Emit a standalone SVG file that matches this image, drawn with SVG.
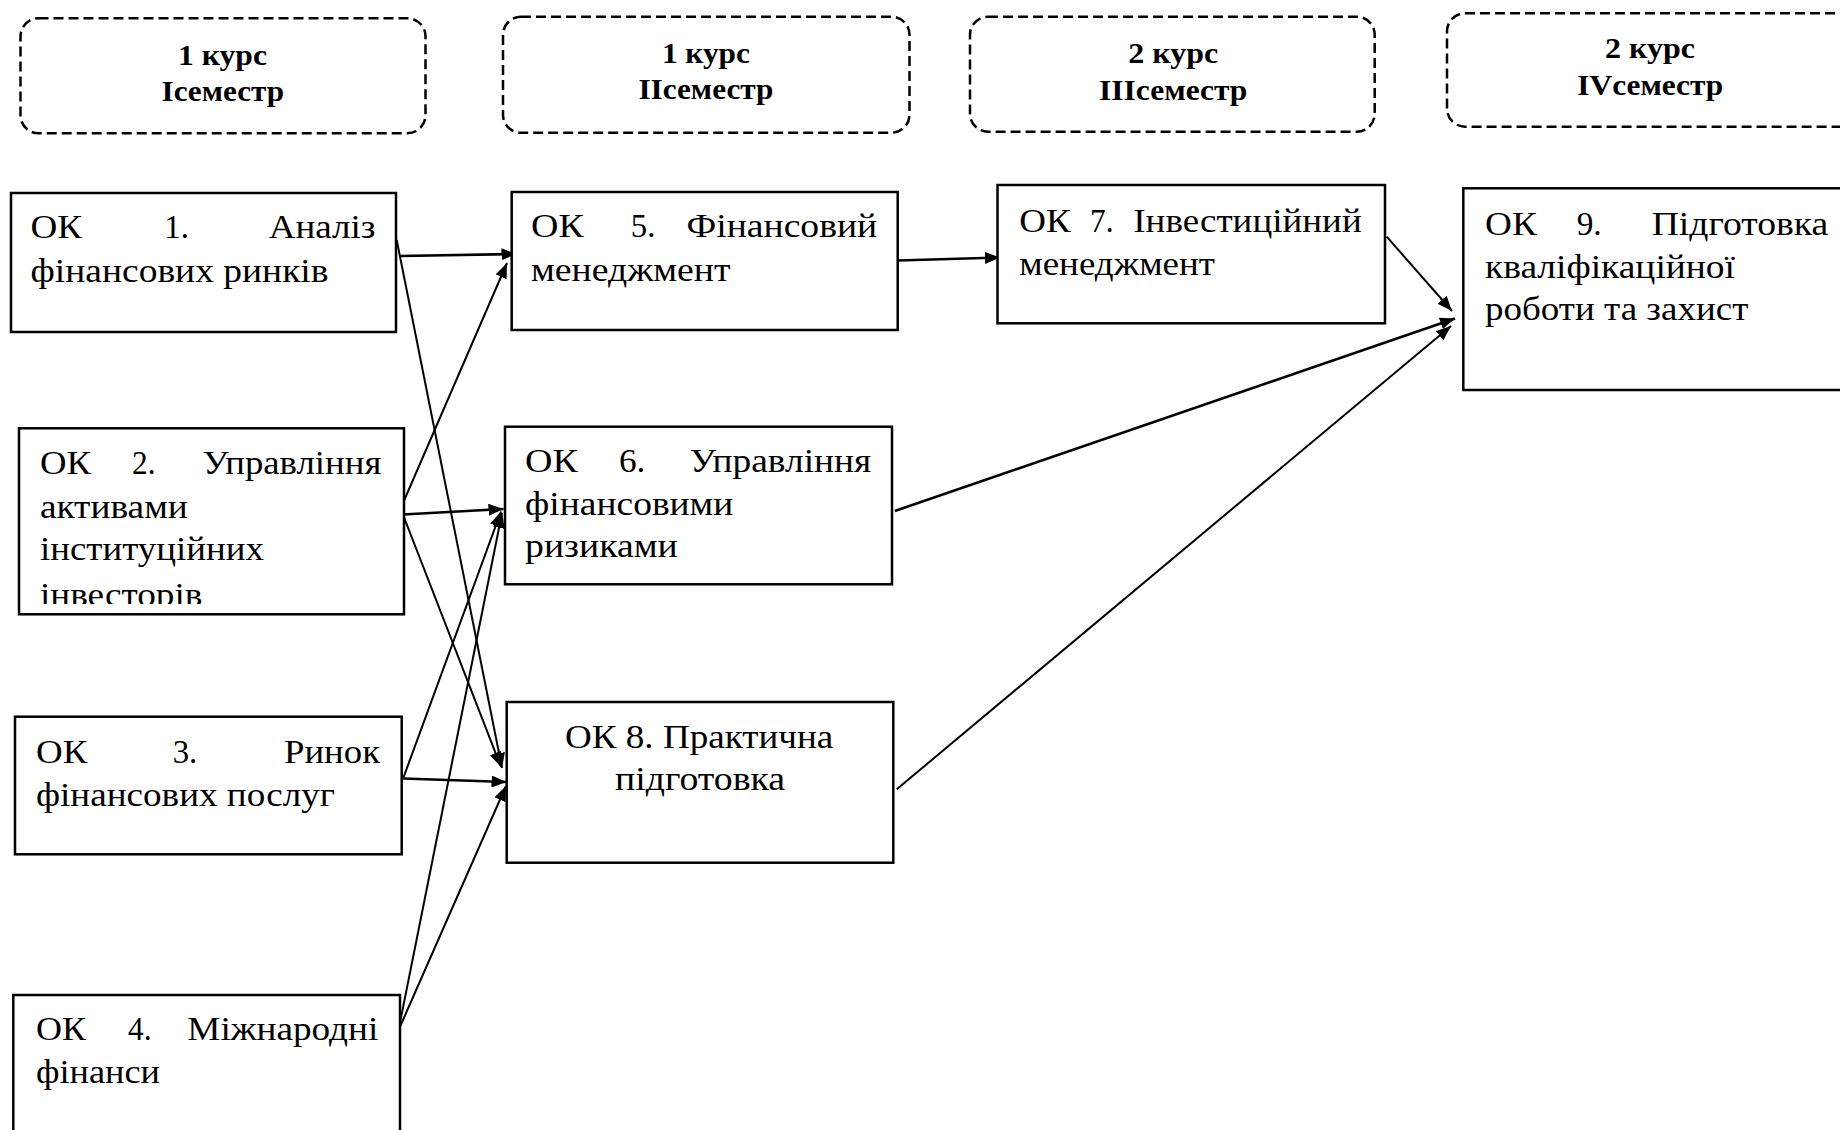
<svg xmlns="http://www.w3.org/2000/svg" width="1840" height="1130" viewBox="0 0 1840 1130">
<style>
.b{fill:#fff;stroke:#000;stroke-width:2.5}
.h{fill:#fff;stroke:#000;stroke-width:2.5;stroke-dasharray:10 5}
.t{font-family:"Liberation Serif","Times New Roman",serif;font-size:34px;fill:#000}
.ht{font-family:"Liberation Serif","Times New Roman",serif;font-size:29px;font-weight:bold;fill:#000}
.c{stroke:#000;stroke-width:2;fill:none;marker-end:url(#ah)}
.k{stroke-width:2.6}
</style>
<defs>
<marker id="ah" markerUnits="userSpaceOnUse" markerWidth="16" markerHeight="12" refX="15" refY="6" orient="auto">
<path d="M0,0 L15,6 L0,12 Z" fill="#000"/>
</marker>
<clipPath id="clip2"><rect x="19" y="428" width="385" height="176"/></clipPath>
</defs>
<rect width="1840" height="1130" fill="#fff"/>

<g id="header1">
<rect class="h" x="20.5" y="18.3" width="405" height="115" rx="18"/>
<text class="ht" x="178" y="65" textLength="89" lengthAdjust="spacingAndGlyphs">1 курс</text>
<text class="ht" x="161.5" y="101" textLength="122.5" lengthAdjust="spacingAndGlyphs">Iсеместр</text>
</g>
<g id="header2">
<rect class="h" x="503" y="16.7" width="406.5" height="116" rx="18"/>
<text class="ht" x="661.9" y="63.3" textLength="88" lengthAdjust="spacingAndGlyphs">1 курс</text>
<text class="ht" x="638.4" y="99.3" textLength="135" lengthAdjust="spacingAndGlyphs">IIсеместр</text>
</g>
<g id="header3">
<rect class="h" x="970" y="16.7" width="404.7" height="115" rx="18"/>
<text class="ht" x="1128.3" y="63.3" textLength="89.8" lengthAdjust="spacingAndGlyphs">2 курс</text>
<text class="ht" x="1099" y="100" textLength="148.4" lengthAdjust="spacingAndGlyphs">IIIсеместр</text>
</g>
<g id="header4">
<rect class="h" x="1447" y="13.3" width="420" height="113.4" rx="18"/>
<text class="ht" x="1605" y="58.3" textLength="90" lengthAdjust="spacingAndGlyphs">2 курс</text>
<text class="ht" x="1577.3" y="95" textLength="146" lengthAdjust="spacingAndGlyphs">IVсеместр</text>
</g>

<g id="connectors">
<line class="c k" x1="400" y1="256" x2="516.5" y2="254"/>
<line class="c" x1="396.7" y1="240" x2="502" y2="768"/>
<line class="c" x1="400" y1="510" x2="507" y2="263"/>
<line class="c k" x1="403" y1="514.5" x2="503.5" y2="509"/>
<line class="c" x1="403.5" y1="516" x2="501" y2="767"/>
<line class="c" x1="403.3" y1="778" x2="501" y2="511.5"/>
<line class="c k" x1="403.3" y1="778.5" x2="506.5" y2="782"/>
<line class="c" x1="394.5" y1="1050" x2="502" y2="513"/>
<line class="c" x1="399" y1="1029" x2="506" y2="786"/>
<line class="c k" x1="898" y1="260.5" x2="1000" y2="257.5"/>
<line class="c" x1="1386.7" y1="236.7" x2="1452" y2="311"/>
<line class="c k" x1="894.8" y1="511" x2="1455" y2="318.5"/>
<line class="c" x1="896.7" y1="789.3" x2="1451" y2="326"/>
</g>

<g id="ok1">
<rect class="b" x="11" y="193" width="385" height="139"/>
<text class="t" x="30.5" y="238.3" textLength="51.6" lengthAdjust="spacingAndGlyphs">ОК</text>
<text class="t" x="164.3" y="238.3" textLength="24.6" lengthAdjust="spacingAndGlyphs">1.</text>
<text class="t" x="268.7" y="238.3" textLength="106.8" lengthAdjust="spacingAndGlyphs">Аналіз</text>
<text class="t" x="30.5" y="281.7" textLength="298" lengthAdjust="spacingAndGlyphs">фінансових ринків</text>
</g>

<g id="ok2">
<rect class="b" x="19" y="428.3" width="385" height="186"/>
<text class="t" x="39.9" y="474" textLength="51" lengthAdjust="spacingAndGlyphs">ОК</text>
<text class="t" x="132" y="474" textLength="23.5" lengthAdjust="spacingAndGlyphs">2.</text>
<text class="t" x="202.4" y="474" textLength="179" lengthAdjust="spacingAndGlyphs">Управління</text>
<text class="t" x="39.9" y="518.3" textLength="147.9" lengthAdjust="spacingAndGlyphs">активами</text>
<text class="t" x="39.9" y="560" textLength="224.1" lengthAdjust="spacingAndGlyphs">інституційних</text>
<text class="t" x="39.9" y="606" textLength="162.5" lengthAdjust="spacingAndGlyphs" clip-path="url(#clip2)">інвесторів</text>
</g>

<g id="ok3">
<rect class="b" x="15" y="716.7" width="386.7" height="137.6"/>
<text class="t" x="36" y="762.7" textLength="51.3" lengthAdjust="spacingAndGlyphs">ОК</text>
<text class="t" x="172.7" y="762.7" textLength="24.6" lengthAdjust="spacingAndGlyphs">3.</text>
<text class="t" x="284" y="762.7" textLength="96" lengthAdjust="spacingAndGlyphs">Ринок</text>
<text class="t" x="36" y="806" textLength="299" lengthAdjust="spacingAndGlyphs">фінансових послуг</text>
</g>

<g id="ok4">
<rect class="b" x="13.3" y="995" width="386.7" height="150"/>
<text class="t" x="36" y="1040" textLength="50" lengthAdjust="spacingAndGlyphs">ОК</text>
<text class="t" x="128" y="1040" textLength="23.5" lengthAdjust="spacingAndGlyphs">4.</text>
<text class="t" x="187.3" y="1040" textLength="191" lengthAdjust="spacingAndGlyphs">Міжнародні</text>
<text class="t" x="36" y="1083.3" textLength="124" lengthAdjust="spacingAndGlyphs">фінанси</text>
</g>

<g id="ok5">
<rect class="b" x="511.7" y="192" width="386" height="138"/>
<text class="t" x="531" y="237.3" textLength="52.8" lengthAdjust="spacingAndGlyphs">ОК</text>
<text class="t" x="630.8" y="237.3" textLength="24.6" lengthAdjust="spacingAndGlyphs">5.</text>
<text class="t" x="686.5" y="237.3" textLength="190.7" lengthAdjust="spacingAndGlyphs">Фінансовий</text>
<text class="t" x="531" y="280.7" textLength="199.5" lengthAdjust="spacingAndGlyphs">менеджмент</text>
</g>

<g id="ok6">
<rect class="b" x="505" y="426.7" width="387" height="157.6"/>
<text class="t" x="525.1" y="471.7" textLength="52.8" lengthAdjust="spacingAndGlyphs">ОК</text>
<text class="t" x="619" y="471.7" textLength="26.4" lengthAdjust="spacingAndGlyphs">6.</text>
<text class="t" x="689.4" y="471.7" textLength="181.9" lengthAdjust="spacingAndGlyphs">Управління</text>
<text class="t" x="525.1" y="515" textLength="208.3" lengthAdjust="spacingAndGlyphs">фінансовими</text>
<text class="t" x="525.1" y="556.7" textLength="152.6" lengthAdjust="spacingAndGlyphs">ризиками</text>
</g>

<g id="ok7">
<rect class="b" x="997.5" y="185" width="387.5" height="138.3"/>
<text class="t" x="1019.3" y="231.7" textLength="51.4" lengthAdjust="spacingAndGlyphs">ОК</text>
<text class="t" x="1090" y="231.7" textLength="23.5" lengthAdjust="spacingAndGlyphs">7.</text>
<text class="t" x="1133.3" y="231.7" textLength="228.4" lengthAdjust="spacingAndGlyphs">Інвестиційний</text>
<text class="t" x="1019.3" y="275" textLength="195.7" lengthAdjust="spacingAndGlyphs">менеджмент</text>
</g>

<g id="ok8">
<rect class="b" x="506.7" y="702" width="386.6" height="160.7"/>
<text class="t" x="565" y="748.3" textLength="268.3" lengthAdjust="spacingAndGlyphs">ОК 8. Практична</text>
<text class="t" x="615" y="790" textLength="170" lengthAdjust="spacingAndGlyphs">підготовка</text>
</g>

<g id="ok9">
<rect class="b" x="1463.3" y="188.3" width="400" height="201.7"/>
<text class="t" x="1485" y="235" textLength="51.7" lengthAdjust="spacingAndGlyphs">ОК</text>
<text class="t" x="1576.7" y="235" textLength="25" lengthAdjust="spacingAndGlyphs">9.</text>
<text class="t" x="1651.7" y="235" textLength="176.6" lengthAdjust="spacingAndGlyphs">Підготовка</text>
<text class="t" x="1485" y="278.3" textLength="250" lengthAdjust="spacingAndGlyphs">кваліфікаційної</text>
<text class="t" x="1485" y="320" textLength="263.3" lengthAdjust="spacingAndGlyphs">роботи та захист</text>
</g>
</svg>
